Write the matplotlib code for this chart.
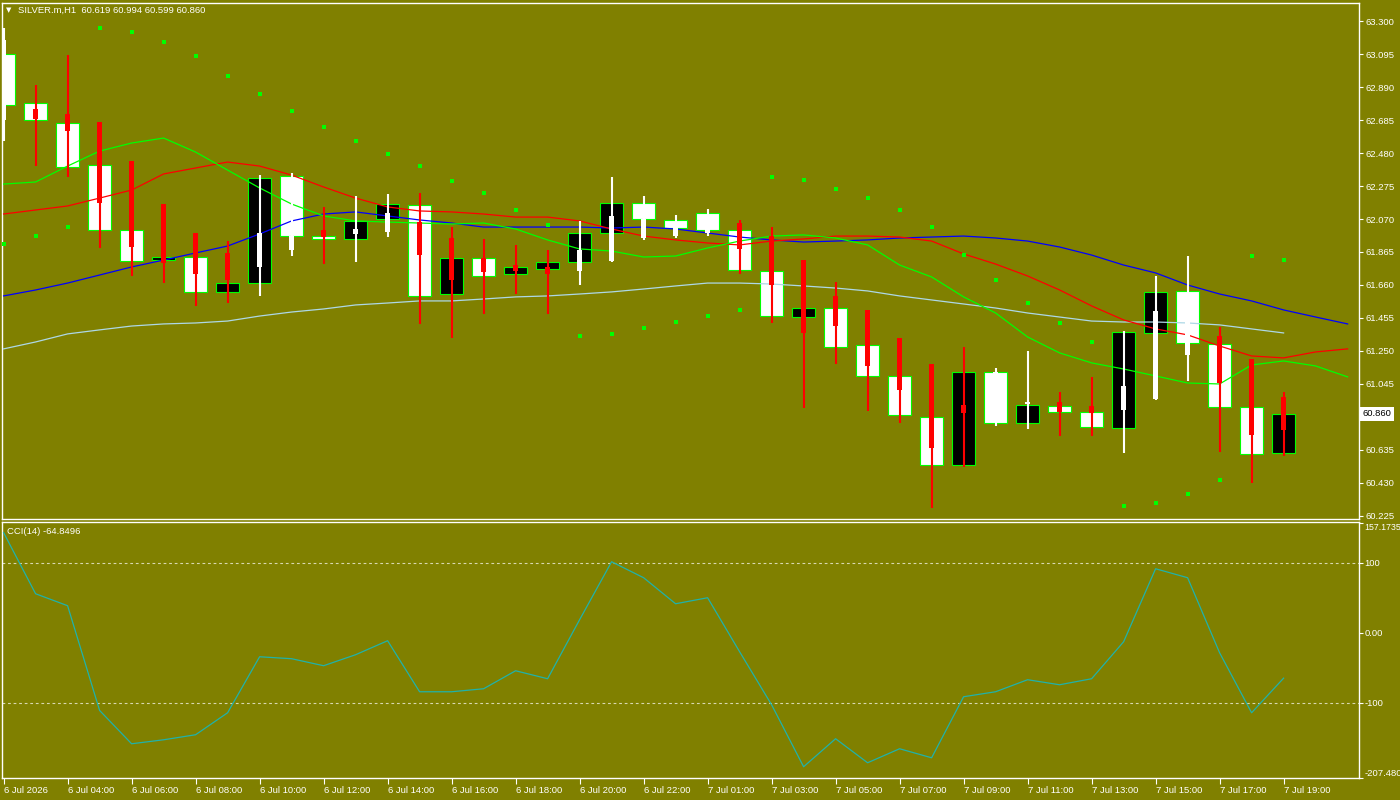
import matplotlib
matplotlib.use('Agg')
import matplotlib.pyplot as plt
import numpy as np

BG = '#808000'
FONT = ['Liberation Sans', 'DejaVu Sans']
plt.rcParams['font.family'] = FONT
FS = 6.8

# ---------------- data ----------------
candle_open = [63.095, 62.791, 62.666, 62.405, 62.002, 61.815, 61.834, 61.617, 61.672, 62.337,
               61.964, 61.946, 62.070, 62.157, 61.604, 61.828, 61.728, 61.759, 61.803, 61.983,
               62.169, 62.064, 62.107, 62.002, 61.747, 61.461, 61.517, 61.287, 61.095, 60.840,
               60.542, 61.120, 60.803, 60.908, 60.871, 60.772, 61.362, 61.623, 61.294, 60.902,
               60.619]
candle_close = [62.778, 62.685, 62.393, 62.002, 61.809, 61.834, 61.617, 61.672, 62.325, 61.964,
                61.946, 62.058, 62.163, 61.592, 61.828, 61.716, 61.772, 61.803, 61.983, 62.169,
                62.070, 62.014, 62.002, 61.753, 61.467, 61.517, 61.275, 61.095, 60.852, 60.542,
                61.120, 60.803, 60.915, 60.871, 60.778, 61.368, 61.617, 61.300, 60.902, 60.610,
                60.860]

ha_open = [62.685, 62.753, 62.722, 62.673, 62.430, 62.163, 61.983, 61.859, 61.772, 61.877,
           62.002, 61.977, 61.989, 62.051, 61.952, 61.828, 61.784, 61.772, 61.747, 61.809,
           61.952, 61.964, 61.983, 62.045, 61.964, 61.815, 61.592, 61.505, 61.331, 61.169,
           60.915, 60.821, 60.921, 60.933, 60.908, 60.884, 60.952, 61.225, 61.343, 61.200,
           60.964]
ha_close = [63.182, 62.691, 62.617, 62.169, 61.896, 61.797, 61.728, 61.691, 61.983, 61.964,
            61.958, 62.008, 62.107, 61.846, 61.691, 61.741, 61.747, 61.728, 61.877, 62.089,
            62.070, 62.027, 62.051, 61.884, 61.660, 61.362, 61.405, 61.157, 61.008, 60.648,
            60.865, 61.120, 60.933, 60.871, 60.865, 61.033, 61.499, 61.567, 61.051, 60.728,
            60.759]
ha_high = [63.257, 62.902, 63.089, 62.673, 62.430, 62.163, 61.983, 61.933, 62.343, 62.356,
           62.145, 62.213, 62.225, 62.232, 62.020, 61.946, 61.909, 61.877, 62.058, 62.331,
           62.213, 62.095, 62.132, 62.064, 62.020, 61.815, 61.679, 61.505, 61.331, 61.169,
           61.275, 61.144, 61.250, 60.995, 61.089, 61.374, 61.716, 61.840, 61.399, 61.200,
           60.994]
ha_low = [62.555, 62.399, 62.331, 61.890, 61.716, 61.672, 61.530, 61.548, 61.592, 61.840,
          61.790, 61.803, 61.958, 61.418, 61.331, 61.480, 61.604, 61.480, 61.660, 61.803,
          61.940, 61.952, 61.964, 61.728, 61.424, 60.896, 61.169, 60.877, 60.803, 60.275,
          60.530, 60.784, 60.766, 60.722, 60.722, 60.616, 60.946, 61.064, 60.623, 60.430,
          60.599]

sar = [61.915, 61.964, 62.020, 63.257, 63.232, 63.170, 63.083, 62.958, 62.847, 62.741,
       62.642, 62.555, 62.474, 62.399, 62.306, 62.232, 62.126, 62.033, 61.343, 61.356,
       61.393, 61.430, 61.467, 61.505, 62.331, 62.312, 62.256, 62.200, 62.126, 62.020,
       61.846, 61.691, 61.548, 61.424, 61.306, 60.287, 60.306, 60.362, 60.449, 61.840,
       61.815]

# Alligator (shifted forward, so two extra points at the right edge)
jaw = [61.592, 61.629, 61.672, 61.722, 61.772, 61.815, 61.859, 61.902, 61.977, 62.058,
       62.101, 62.114, 62.089, 62.064, 62.045, 62.020, 62.020, 62.020, 62.020, 62.014,
       62.020, 62.008, 61.983, 61.958, 61.940, 61.927, 61.933, 61.940, 61.952, 61.958,
       61.964, 61.952, 61.933, 61.896, 61.846, 61.784, 61.735, 61.660, 61.604, 61.561,
       61.505, 61.461, 61.418]
teeth = [62.101, 62.126, 62.151, 62.200, 62.250, 62.350, 62.387, 62.424, 62.399, 62.343,
         62.269, 62.200, 62.145, 62.120, 62.114, 62.101, 62.082, 62.082, 62.058, 62.008,
         61.964, 61.940, 61.921, 61.909, 61.933, 61.946, 61.964, 61.964, 61.958, 61.933,
         61.853, 61.790, 61.716, 61.629, 61.530, 61.443, 61.387, 61.350, 61.281, 61.219,
         61.207, 61.244, 61.263]
lips = [62.287, 62.300, 62.399, 62.492, 62.542, 62.573, 62.486, 62.374, 62.263, 62.163,
        62.089, 62.058, 62.051, 62.045, 62.039, 62.045, 62.008, 61.940, 61.884, 61.871,
        61.834, 61.840, 61.890, 61.933, 61.964, 61.971, 61.952, 61.909, 61.784, 61.710,
        61.586, 61.486, 61.337, 61.238, 61.176, 61.138, 61.095, 61.051, 61.045, 61.163,
        61.188, 61.157, 61.089]
ma_line = [61.263, 61.306, 61.356, 61.381, 61.405, 61.418, 61.424, 61.436, 61.467, 61.492,
           61.511, 61.536, 61.548, 61.561, 61.561, 61.573, 61.586, 61.592, 61.604, 61.617,
           61.635, 61.654, 61.672, 61.672, 61.666, 61.654, 61.641, 61.623, 61.592, 61.567,
           61.542, 61.517, 61.486, 61.461, 61.436, 61.430, 61.430, 61.424, 61.412, 61.387,
           61.362]

cci = [143.0, 55.7, 38.6, -111.0, -158.6, -152.9, -145.7, -114.3, -34.3, -37.1,
       -47.1, -31.4, -11.4, -84.3, -84.3, -80.0, -54.3, -65.7, 18.6, 101.4,
       78.6, 41.4, 50.0, -27.1, -102.9, -191.4, -151.4, -185.7, -165.7, -178.6,
       -91.4, -84.3, -67.1, -74.3, -65.7, -12.9, 91.4, 78.6, -28.6, -114.3,
       -64.85]

time_tick_pos = [0, 2, 4, 6, 8, 10, 12, 14, 16, 18, 20, 22, 24, 26, 28, 30, 32, 34, 36, 38, 40]
time_tick_labels = ['6 Jul 2026', '6 Jul 04:00', '6 Jul 06:00', '6 Jul 08:00', '6 Jul 10:00',
                    '6 Jul 12:00', '6 Jul 14:00', '6 Jul 16:00', '6 Jul 18:00', '6 Jul 20:00',
                    '6 Jul 22:00', '7 Jul 01:00', '7 Jul 03:00', '7 Jul 05:00', '7 Jul 07:00',
                    '7 Jul 09:00', '7 Jul 11:00', '7 Jul 13:00', '7 Jul 15:00', '7 Jul 17:00',
                    '7 Jul 19:00']
price_ticks = [63.300, 63.095, 62.890, 62.685, 62.480, 62.275, 62.070, 61.865, 61.660,
               61.455, 61.250, 61.045, 60.840, 60.635, 60.430, 60.225]
cci_ticks = [157.1735, 100, 0, -100, -207.48]
cci_tick_labels = ['157.1735', '100', '0.00', '-100', '-207.480']
last_price = 60.860
header = 'SILVER.m,H1  60.619 60.994 60.599 60.860'
cci_header = 'CCI(14) -64.8496'

# ---------------- figure ----------------
W, H = 1400, 800
fig = plt.figure(figsize=(14, 8), dpi=100, facecolor=BG)
ax = fig.add_axes([2 / W, 1 - 519 / H, 1357 / W, 516.3 / H])
ax2 = fig.add_axes([2 / W, 1 - 778 / H, 1357 / W, 256.5 / H])

XLIM = (-0.05, 42.356)
for a in (ax, ax2):
    a.set_facecolor(BG)
    a.set_xlim(*XLIM)
    for s in a.spines.values():
        s.set_color('white')
        s.set_linewidth(1.0)

n = len(candle_open)
idx = np.arange(n)
co = np.array(candle_open)
cc = np.array(candle_close)
body_col = ['black' if c > o else 'white' for o, c in zip(co, cc)]
ax.bar(idx, np.abs(cc - co), bottom=np.minimum(co, cc), width=0.74,
       color=body_col, edgecolor='#00FF00', linewidth=0.8, zorder=2)

ax.plot(np.arange(len(ma_line)), ma_line, color='#ADD8E6', lw=0.9, zorder=3)
ax.plot(np.arange(len(jaw)), jaw, color='#0000FF', lw=0.9, zorder=3)
ax.plot(np.arange(len(teeth)), teeth, color='#FF0000', lw=0.9, zorder=3)
ax.plot(np.arange(len(lips)), lips, color='#00FF00', lw=0.9, zorder=3)

ho = np.array(ha_open)
hc = np.array(ha_close)
ha_col = ['#FF0000' if c < o else 'white' for o, c in zip(ho, hc)]
ax.vlines(idx, ha_low, ha_high, colors=ha_col, lw=1.5, zorder=4)
ax.bar(idx, np.maximum(np.abs(hc - ho), 0.006), bottom=np.minimum(ho, hc), width=0.16,
       color=ha_col, linewidth=0, zorder=4)

ax.scatter(idx, sar, marker='s', s=5, color='#00FF00', linewidths=0, zorder=5)

ax.set_ylim(60.206, 63.414)
ax.set_xticks([])
ax.yaxis.tick_right()
ax.set_yticks(price_ticks)
# the 60.840 label sits underneath the current-price box, so it is left blank
ax.set_yticklabels(['' if abs(v - last_price) < 0.05 else f'{v:.3f}' for v in price_ticks])
ax.tick_params(axis='y', colors='white', length=3, width=0.8, pad=1.5, labelsize=FS)

ax.annotate(f'{last_price:.3f}', xy=(1, last_price), xycoords=('axes fraction', 'data'),
            xytext=(2.5, 0), textcoords='offset points', ha='left', va='center',
            fontsize=FS, color='black', zorder=10, annotation_clip=False,
            bbox=dict(boxstyle='square,pad=0.25', facecolor='white', edgecolor='none'))

fig.text(6 / W, 1 - 10 / H, '\u25BC', fontsize=5, color='white', va='center',
         family=['DejaVu Sans'])
fig.text(18 / W, 1 - 10 / H, header, fontsize=FS, color='white', va='center')

# ---------------- CCI panel ----------------
ax2.plot(idx, cci, color='#20B2AA', lw=0.9, zorder=3)
for lvl in (100, -100):
    ax2.axhline(lvl, color='#D8D8B0', lw=0.8, ls=(0, (2.5, 2.5)), zorder=2)
ax2.set_ylim(-207.48, 158.9)
ax2.yaxis.tick_right()
ax2.set_yticks(cci_ticks)
ax2.set_yticklabels(cci_tick_labels)
ax2.tick_params(axis='y', colors='white', length=3, width=0.8, pad=1.0, labelsize=FS)
ylabs = ax2.get_yticklabels()
ylabs[0].set_va('top')
ylabs[0].set_fontsize(6.3)
ylabs[-1].set_va('bottom')

ax2.set_xticks(time_tick_pos)
ax2.set_xticklabels(time_tick_labels)
ax2.tick_params(axis='x', colors='white', length=4, width=0.8, pad=2, labelsize=FS)
for lab in ax2.get_xticklabels():
    lab.set_ha('left')

fig.text(7 / W, 1 - 531 / H, cci_header, fontsize=FS, color='white', va='center')

fig.savefig('out.png', dpi=100, facecolor=BG)
